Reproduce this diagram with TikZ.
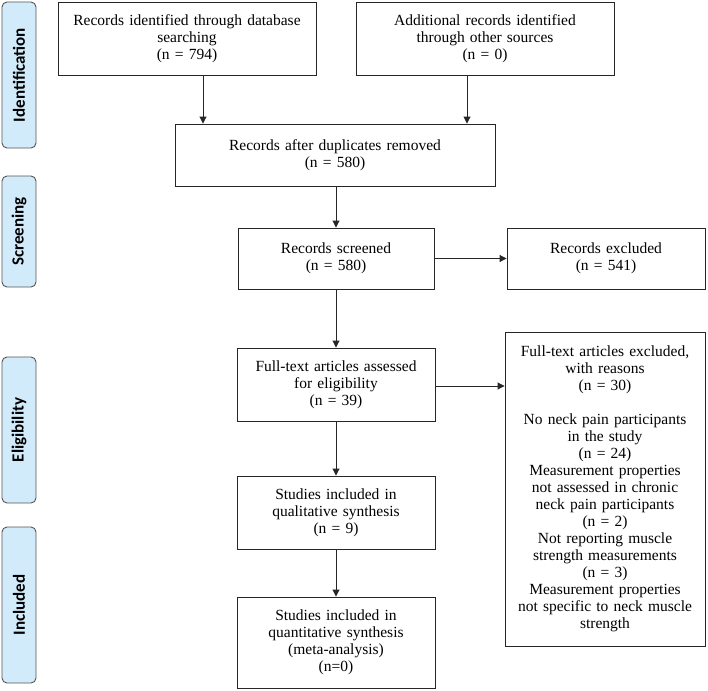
\documentclass[tikz,border=0pt]{standalone}
\usepackage{fontspec}
\setmainfont{Liberation Serif}
\newfontfamily\labelfont{Carlito}
\usetikzlibrary{arrows.meta,positioning}
\definecolor{sidefill}{HTML}{D2EBFB}
\definecolor{sidedraw}{HTML}{555555}
\definecolor{linec}{HTML}{262626}
\tikzset{
  sidelab/.style={draw=sidedraw,line width=0.9pt,fill=sidefill,rounded corners=5pt,rotate=90,
    minimum height=34pt,inner sep=0pt,font=\labelfont\bfseries\fontsize{17pt}{19pt}\selectfont},
  boxst/.style={draw=linec,line width=0.9pt,align=center,inner sep=2pt,
    font=\fontsize{15.5pt}{17pt}\selectfont},
  arr/.style={draw=linec,line width=0.9pt,-{Triangle[length=7pt,width=7pt]}}
}
\begin{document}
\begin{tikzpicture}[x=1pt,y=-1pt]
\useasboundingbox (0,0) rectangle (708,690);
% side labels
\node[sidelab,minimum width=146pt] (sid) at (19,75) {Identification};
\node[sidelab,minimum width=111pt] (ssc) at (19,231.5) {Screening};
\node[sidelab,minimum width=146pt] (sel) at (19,430) {Eligibility};
\node[sidelab,minimum width=156pt] (sin) at (19,605) {Included};
% boxes
\node[boxst,minimum width=258pt,minimum height=73pt,text width=250pt] (b1) at (187,38.5)
  {Records identified through database\\searching\\(n = 794)};
\node[boxst,minimum width=258pt,minimum height=73pt,text width=250pt] (b2) at (485,38.5)
  {Additional records identified\\through other sources\\(n = 0)};
\node[boxst,minimum width=320pt,minimum height=62pt,text width=312pt] (b3) at (335,155)
  {Records after duplicates removed\\(n = 580)};
\node[boxst,minimum width=196pt,minimum height=61pt,text width=188pt] (b4) at (336,258.5)
  {Records screened\\(n = 580)};
\node[boxst,minimum width=198pt,minimum height=61pt,text width=190pt] (b5) at (606,258.5)
  {Records excluded\\(n = 541)};
\node[boxst,minimum width=198pt,minimum height=73pt,text width=190pt] (b6) at (336,384.5)
  {Full-text articles assessed\\for eligibility\\(n = 39)};
\node[boxst,minimum width=198pt,minimum height=73pt,text width=190pt] (b7) at (336,512.5)
  {Studies included in\\qualitative synthesis\\(n = 9)};
\node[boxst,minimum width=198pt,minimum height=91pt,text width=190pt] (b8) at (336,642.5)
  {Studies included in\\quantitative synthesis\\(meta-analysis)\\(n=0)};
\node[boxst,minimum width=198pt,minimum height=314pt,text width=196pt] (b9) at (605,489)
  {Full-text articles excluded,\\with reasons\\(n = 30)\\[16.5pt]
   No neck pain participants\\in the study\\(n = 24)\\
   Measurement properties\\not assessed in chronic\\neck pain participants\\(n = 2)\\
   Not reporting muscle\\strength measurements\\(n = 3)\\
   Measurement properties\\not specific to neck muscle\\strength};
% connectors
\coordinate (cx1) at (203,0);
\coordinate (cx2) at (467,0);
\draw[arr] (b1.south -| cx1) -- (b3.north -| cx1);
\draw[arr] (b2.south -| cx2) -- (b3.north -| cx2);
\draw[arr] (b3.south -| b4.north) -- (b4.north);
\draw[arr] (b4.east) -- (b5.west);
\draw[arr] (b4.south) -- (b6.north);
\coordinate (cy6) at (0,386);
\draw[arr] (b6.east |- cy6) -- (b9.west |- cy6);
\draw[arr] (b6.south) -- (b7.north);
\draw[arr] (b7.south) -- (b8.north);
\end{tikzpicture}
\end{document}
